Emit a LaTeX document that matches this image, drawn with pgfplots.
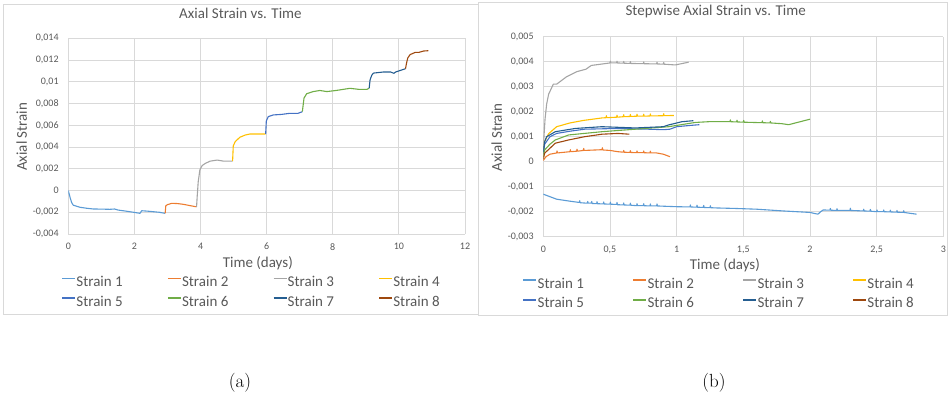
\documentclass[border=0pt]{standalone}
\usepackage{pgfplots}
\pgfplotsset{compat=1.18}
\usepackage{fontspec}
\newfontfamily\carlito{Carlito}
\definecolor{sA}{HTML}{5B9BD5}
\definecolor{sB}{HTML}{ED7D31}
\definecolor{sC}{HTML}{A5A5A5}
\definecolor{sD}{HTML}{FFC000}
\definecolor{sE}{HTML}{4472C4}
\definecolor{sF}{HTML}{70AD47}
\definecolor{sG}{HTML}{255E91}
\definecolor{sH}{HTML}{9E480E}
\definecolor{gridgray}{HTML}{D9D9D9}
\definecolor{txtgray}{HTML}{595959}
\definecolor{boxgray}{HTML}{D9D9D9}
\pgfplotsset{excel/.style={
  scale only axis, anchor=south west,
  scaled x ticks=false, scaled y ticks=false,
  axis line style={draw=none}, major tick length=0pt, tick style={draw=none},
  grid=major, grid style={color=gridgray, line width=0.8pt},
  ticklabel style={font=\carlito\fontsize{10}{12}\selectfont, text=txtgray, inner sep=0pt},
  x tick label style={yshift=-9pt},
  y tick label style={xshift=-9.5pt},
  label style={font=\carlito\fontsize{15}{18}\selectfont, text=txtgray},
  title style={font=\carlito\fontsize{15}{18}\selectfont, text=txtgray, anchor=center},
  legend style={draw=none, fill=none, font=\carlito\fontsize{15}{18}\selectfont, text=txtgray,
     legend columns=4, anchor=center, nodes={inner sep=0pt}, row sep=8pt},
  every axis plot/.append style={line width=1.1pt, mark=none, line join=round},
}}
\newcommand\leg[2]{\addlegendimage{legend image code/.code={\draw[draw=#1, line width=1.4pt] (0pt,3.5pt) -- (13pt,3.5pt);}}\addlegendentry{#2}}
\begin{document}
\begin{tikzpicture}[x=1pt,y=1pt]
\useasboundingbox (0,0) rectangle (948,399);
\draw[boxgray, line width=0.8pt] (3,395) rectangle (478.5,85);
\draw[boxgray, line width=0.8pt] (478.3,396.3) rectangle (947.5,84);
\node[font=\fontsize{19}{22}\selectfont] at (240,16) {(a)};
\node[font=\fontsize{19}{22}\selectfont] at (714,16) {(b)};

% ---------------- (a) ----------------
\begin{axis}[excel, at={(68.3pt,165pt)}, width=396.7pt, height=195.7pt,
  xmin=0, xmax=12, ymin=-0.004, ymax=0.014,
  xtick={0,2,4,6,8,10,12}, xticklabels={0,2,4,6,8,10,12},
  ytick={-0.004,-0.002,0,0.002,0.004,0.006,0.008,0.01,0.012,0.014},
  yticklabels={{-0,004},{-0,002},{0},{0,002},{0,004},{0,006},{0,008},{0,01},{0,012},{0,014}},
  title={Axial Strain vs. Time}, title style={at={(axis description cs:0.434,1.0986)}},
  xlabel={Time (days)}, xlabel style={at={(axis description cs:0.4777,-0.148)}, anchor=center},
  ylabel={Axial Strain}, ylabel style={at={(axis description cs:-0.1175,0.497)}, anchor=center},
  legend style={at={(axis description cs:0.4596,-0.295)},
     /tikz/every even column/.append style={column sep=44.4pt},
     /tikz/every odd column/.append style={column sep=0.5pt}},
]
\addplot[sA, forget plot] coordinates {(0,0) (0.05,-0.0006) (0.1,-0.0011) (0.15,-0.00135) (0.35,-0.00154) (0.55,-0.00163) (0.76,-0.0017) (1.0,-0.00171) (1.26,-0.00173) (1.4,-0.0017) (1.51,-0.0018) (1.75,-0.0019) (1.97,-0.002) (2.17,-0.0021) (2.22,-0.00186) (2.4,-0.0019) (2.57,-0.00195) (2.75,-0.002) (2.93,-0.0021)};
\addplot[sB, forget plot] coordinates {(2.93,-0.0021) (2.95,-0.0014) (3.0,-0.0013) (3.13,-0.00118) (3.3,-0.0012) (3.48,-0.00127) (3.7,-0.0014) (3.86,-0.00149) (3.88,-0.0015)};
\addplot[sC, forget plot] coordinates {(3.88,-0.0015) (3.9,-0.0005) (3.93,0.0008) (3.98,0.0019) (4.05,0.0023) (4.15,0.0025) (4.29,0.0027) (4.5,0.0028) (4.7,0.0027) (4.97,0.0027)};
\addplot[sD, forget plot] coordinates {(4.97,0.0027) (4.99,0.0041) (5.05,0.0045) (5.19,0.0049) (5.35,0.0051) (5.5,0.0052) (5.8,0.0052) (5.97,0.0052)};
\addplot[sE, forget plot] coordinates {(5.97,0.0052) (5.99,0.0064) (6.05,0.0068) (6.2,0.00695) (6.45,0.0070) (6.7,0.0071) (6.95,0.0071) (7.08,0.00725)};
\addplot[sF, forget plot] coordinates {(7.08,0.00725) (7.13,0.0085) (7.21,0.0089) (7.41,0.0091) (7.61,0.0092) (7.82,0.0091) (8.1,0.0092) (8.52,0.0094) (8.8,0.0093) (9.03,0.0093) (9.1,0.0094)};
\addplot[sG, forget plot] coordinates {(9.1,0.0094) (9.13,0.0102) (9.18,0.0106) (9.23,0.0108) (9.53,0.0109) (9.75,0.0109) (9.85,0.01078) (9.9,0.0109) (10.1,0.0111) (10.2,0.0112)};
\addplot[sH, forget plot] coordinates {(10.2,0.0112) (10.23,0.0117) (10.27,0.0122) (10.34,0.0125) (10.49,0.0127) (10.6,0.0127) (10.75,0.01283) (10.89,0.01286)};
\leg{sA}{Strain 1}\leg{sB}{Strain 2}\leg{sC}{Strain 3}\leg{sD}{Strain 4}
\leg{sE}{Strain 5}\leg{sF}{Strain 6}\leg{sG}{Strain 7}\leg{sH}{Strain 8}
\end{axis}

% ---------------- (b) ----------------
\begin{axis}[excel, at={(543.3pt,162.3pt)}, width=400pt, height=200pt,
  xmin=0, xmax=3, ymin=-0.003, ymax=0.005,
  xtick={0,0.5,1,1.5,2,2.5,3}, xticklabels={0,{0,5},1,{1,5},2,{2,5},3},
  ytick={-0.003,-0.002,-0.001,0,0.001,0.002,0.003,0.004,0.005},
  yticklabels={{-0,003},{-0,002},{-0,001},{0},{0,001},{0,002},{0,003},{0,004},{0,005}},
  title={Stepwise Axial Strain vs. Time}, title style={at={(axis description cs:0.431,1.096)}},
  xlabel={Time (days)}, xlabel style={at={(axis description cs:0.454,-0.1415)}, anchor=center},
  ylabel={Axial Strain}, ylabel style={at={(axis description cs:-0.1165,0.496)}, anchor=center},
  legend style={at={(axis description cs:0.4375,-0.2845)},
     /tikz/every even column/.append style={column sep=48.7pt},
     /tikz/every odd column/.append style={column sep=0.5pt}},
]
\addplot[sA, forget plot] coordinates {(0,-0.0013) (0.05,-0.0014) (0.1,-0.0015) (0.2,-0.00158) (0.27,-0.00163) (0.273,-0.00156) (0.276,-0.00164) (0.3,-0.00165) (0.33,-0.00166) (0.333,-0.00159) (0.336,-0.00166) (0.36,-0.00166) (0.363,-0.00159) (0.366,-0.00167) (0.4,-0.00168) (0.403,-0.0016) (0.406,-0.00168) (0.45,-0.00169) (0.453,-0.00161) (0.456,-0.00169) (0.5,-0.0017) (0.503,-0.00162) (0.506,-0.0017) (0.55,-0.00171) (0.553,-0.00163) (0.556,-0.00172) (0.6,-0.00173) (0.603,-0.00165) (0.606,-0.00173) (0.65,-0.00174) (0.653,-0.00166) (0.656,-0.00174) (0.7,-0.00176) (0.703,-0.00168) (0.706,-0.00176) (0.75,-0.00176) (0.753,-0.00168) (0.756,-0.00176) (0.8,-0.00177) (0.803,-0.00169) (0.806,-0.00177) (0.85,-0.00177) (0.853,-0.00169) (0.856,-0.00177) (0.9,-0.00178) (1.0,-0.0018) (1.1,-0.00181) (1.103,-0.00173) (1.106,-0.00181) (1.15,-0.00182) (1.153,-0.00174) (1.156,-0.00182) (1.2,-0.00183) (1.203,-0.00175) (1.206,-0.00183) (1.25,-0.00184) (1.253,-0.00176) (1.256,-0.00184) (1.3,-0.00185) (1.44,-0.00187) (1.6,-0.0019) (1.8,-0.00197) (2.0,-0.00203) (2.06,-0.0021) (2.08,-0.002) (2.1,-0.00193) (2.15,-0.00194) (2.153,-0.00187) (2.156,-0.00194) (2.2,-0.00195) (2.203,-0.00188) (2.206,-0.00195) (2.3,-0.00195) (2.303,-0.00186) (2.306,-0.00195) (2.4,-0.00197) (2.403,-0.0019) (2.406,-0.00197) (2.45,-0.00198) (2.453,-0.00191) (2.456,-0.00198) (2.5,-0.002) (2.503,-0.00193) (2.506,-0.002) (2.55,-0.002) (2.553,-0.00193) (2.556,-0.002) (2.6,-0.00201) (2.603,-0.00194) (2.606,-0.00201) (2.65,-0.00202) (2.653,-0.00195) (2.656,-0.00202) (2.7,-0.00203) (2.703,-0.00196) (2.706,-0.00203) (2.8,-0.0021)};
\addplot[sB, forget plot] coordinates {(0,0.00005) (0.02,0.0002) (0.05,0.0003) (0.1,0.00035) (0.103,0.00043) (0.106,0.00035) (0.2,0.0004) (0.203,0.00048) (0.206,0.0004) (0.25,0.00042) (0.253,0.0005) (0.256,0.00042) (0.3,0.00045) (0.303,0.00053) (0.306,0.00045) (0.44,0.00048) (0.443,0.00056) (0.446,0.00047) (0.5,0.00045) (0.56,0.0004) (0.6,0.00038) (0.603,0.00045) (0.606,0.00038) (0.65,0.00037) (0.653,0.00044) (0.656,0.00037) (0.7,0.00036) (0.703,0.00043) (0.706,0.00036) (0.75,0.00036) (0.753,0.00043) (0.756,0.00036) (0.8,0.00035) (0.803,0.00042) (0.806,0.00035) (0.85,0.00035) (0.9,0.0003) (0.95,0.0002)};
\addplot[sC, forget plot] coordinates {(0,0.0003) (0.005,0.001) (0.013,0.0017) (0.025,0.0023) (0.04,0.0027) (0.075,0.0031) (0.1,0.0031) (0.175,0.0034) (0.25,0.0036) (0.32,0.0037) (0.36,0.00385) (0.43,0.0039) (0.5,0.00395) (0.503,0.00402) (0.506,0.00395) (0.55,0.00395) (0.553,0.00402) (0.556,0.00395) (0.6,0.00394) (0.603,0.00401) (0.606,0.00394) (0.65,0.00393) (0.653,0.004) (0.656,0.00393) (0.75,0.00392) (0.753,0.00399) (0.756,0.00392) (0.85,0.00391) (0.853,0.00398) (0.856,0.00391) (0.9,0.0039) (0.903,0.00397) (0.906,0.0039) (0.99,0.00387) (1.09,0.00398)};
\addplot[sD, forget plot] coordinates {(0,0.0003) (0.01,0.0008) (0.04,0.00112) (0.1,0.0014) (0.2,0.00155) (0.3,0.00165) (0.44,0.00175) (0.47,0.00176) (0.473,0.00184) (0.476,0.00176) (0.55,0.00178) (0.553,0.00186) (0.556,0.00178) (0.6,0.0018) (0.603,0.00188) (0.606,0.0018) (0.65,0.00181) (0.653,0.00189) (0.656,0.00181) (0.7,0.00182) (0.703,0.0019) (0.706,0.00182) (0.75,0.00182) (0.753,0.0019) (0.756,0.00182) (0.8,0.00183) (0.803,0.00191) (0.806,0.00183) (0.9,0.00184) (0.903,0.00192) (0.906,0.00184) (0.98,0.00185)};
\addplot[sE, forget plot] coordinates {(0,0.0003) (0.01,0.0007) (0.05,0.001) (0.1,0.00113) (0.2,0.00122) (0.31,0.0013) (0.56,0.00133) (0.79,0.0013) (0.9,0.00128) (0.95,0.0013) (1.0,0.0014) (1.1,0.00145) (1.17,0.00148)};
\addplot[sF, forget plot] coordinates {(0,0.0002) (0.01,0.00047) (0.05,0.0007) (0.09,0.00087) (0.19,0.00107) (0.44,0.0012) (0.69,0.0013) (0.94,0.0014) (1.14,0.00157) (1.24,0.0016) (1.4,0.0016) (1.403,0.00167) (1.406,0.0016) (1.45,0.00159) (1.453,0.00166) (1.456,0.00159) (1.5,0.00158) (1.503,0.00165) (1.506,0.00158) (1.64,0.00156) (1.643,0.00163) (1.646,0.00156) (1.7,0.00155) (1.703,0.00161) (1.706,0.00155) (1.79,0.00152) (1.84,0.00148) (2.0,0.0017)};
\addplot[sG, forget plot] coordinates {(0,0.0004) (0.01,0.0008) (0.025,0.001) (0.09,0.0012) (0.24,0.00133) (0.44,0.0014) (0.69,0.00135) (0.9,0.0014) (0.94,0.00147) (1.04,0.0016) (1.125,0.00164)};
\addplot[sH, forget plot] coordinates {(0,0.0001) (0.01,0.00034) (0.09,0.00074) (0.19,0.00087) (0.31,0.001) (0.44,0.0011) (0.56,0.00113) (0.645,0.0011)};
\leg{sA}{Strain 1}\leg{sB}{Strain 2}\leg{sC}{Strain 3}\leg{sD}{Strain 4}
\leg{sE}{Strain 5}\leg{sF}{Strain 6}\leg{sG}{Strain 7}\leg{sH}{Strain 8}
\end{axis}
\end{tikzpicture}
\end{document}
